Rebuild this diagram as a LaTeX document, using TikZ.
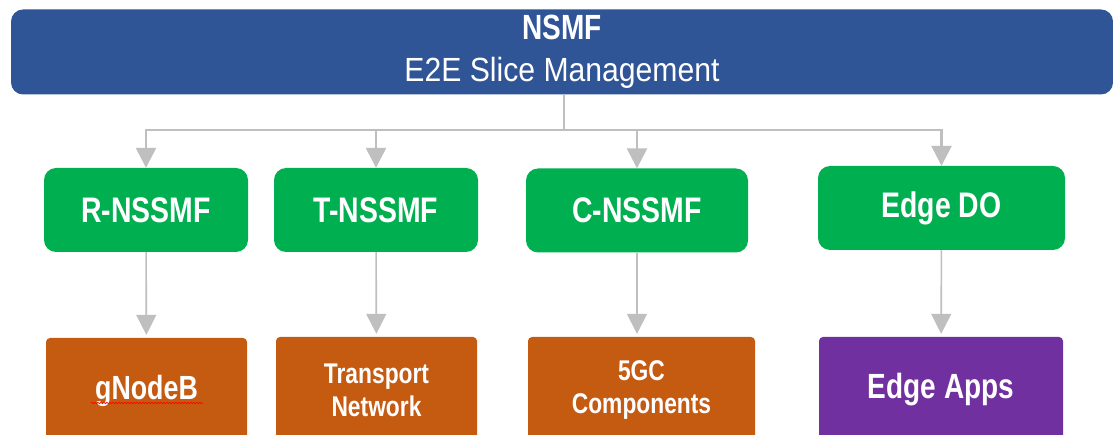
\documentclass[tikz,border=0pt]{standalone}
\usepackage{fontspec}
\setmainfont{Liberation Sans}
\newfontfamily\condbold{Liberation Sans}[FakeStretch=0.8,UprightFont=*-Bold]
\newfontfamily\condreg{Liberation Sans}[FakeStretch=0.9]
\usetikzlibrary{arrows.meta,decorations.pathmorphing}
\definecolor{barblue}{HTML}{2F5597}
\definecolor{boxgreen}{HTML}{00B050}
\definecolor{boxorange}{HTML}{C55A11}
\definecolor{boxpurple}{HTML}{7030A0}
\definecolor{linegray}{HTML}{BFBFBF}
\begin{document}
\begin{tikzpicture}[x=1pt,y=-1pt,
  bar/.style={fill=barblue,rounded corners=12pt,minimum width=1102pt,minimum height=85pt,inner sep=0pt,text=white,align=center,font=\fontsize{33.5}{42}\selectfont},
  nssmf/.style={fill=boxgreen,rounded corners=12pt,minimum height=84pt,inner sep=0pt,text=white,font=\condbold\fontsize{35.5}{40}\selectfont},
  target/.style={rounded corners=4pt,minimum height=106pt,inner sep=0pt,text=white,align=center},
  trunk/.style={draw=linegray,line width=2.6pt},
  arr/.style={draw=linegray,line width=2.6pt,-{Triangle[width=20pt,length=20pt]}},
  arrlow/.style={draw=linegray,line width=1.6pt,-{Triangle[width=20pt,length=20pt]},shorten >=3pt}]
\clip (0,0) rectangle (1113,435);
\fill[white] (0,0) rectangle (1113,435);
\node[bar] (nsmf) at (562,52) {{\condbold\fontsize{35}{42}\selectfont NSMF}\\{\condreg E2E Slice Management}};
\node[nssmf,minimum width=204pt] (r) at (146,210) {R-NSSMF};
\node[nssmf,minimum width=204pt] (t) at (376,210) {T-NSSMF};
\node[nssmf,minimum width=222pt] (c) at (637,210.5) {C-NSSMF};
\node[nssmf,minimum width=247pt] (e) at (941.5,208) {Edge DO};
\node[target,fill=boxorange,minimum width=201pt,font=\condbold\fontsize{33.5}{38}\selectfont] (g) at (146.5,391) {gNodeB};
\node[target,fill=boxorange,minimum width=201pt,font=\condbold\fontsize{28.5}{33}\selectfont] (tn) at (376.5,390) {Transport\\Network};
\node[target,fill=boxorange,minimum width=227pt,font=\condbold\fontsize{28.5}{33}\selectfont] (cg) at (641.5,390) {5GC\\Components};
\node[target,fill=boxpurple,minimum width=244pt,font=\condbold\fontsize{35}{38}\selectfont] (ea) at (941,390) {Edge Apps};
\coordinate (jn) at (564,130);
\draw[trunk] (nsmf.south -| jn) -- (jn);
\draw[arr] (jn) -| (r);
\draw[arr] (jn) -| (t);
\draw[arr] (jn) -| (c);
\draw[arr] (jn) -| (e);
\draw[arrlow] (r) -- (g);
\draw[arrlow] (t) -- (tn);
\draw[arrlow] (c.south) -- (c.south |- cg.north);
\draw[arrlow] (e) -- (ea);
\draw[red,line width=0.6pt,decorate,decoration={snake,amplitude=0.8pt,segment length=3pt}] (91,403) -- (203,403);
\end{tikzpicture}
\end{document}
